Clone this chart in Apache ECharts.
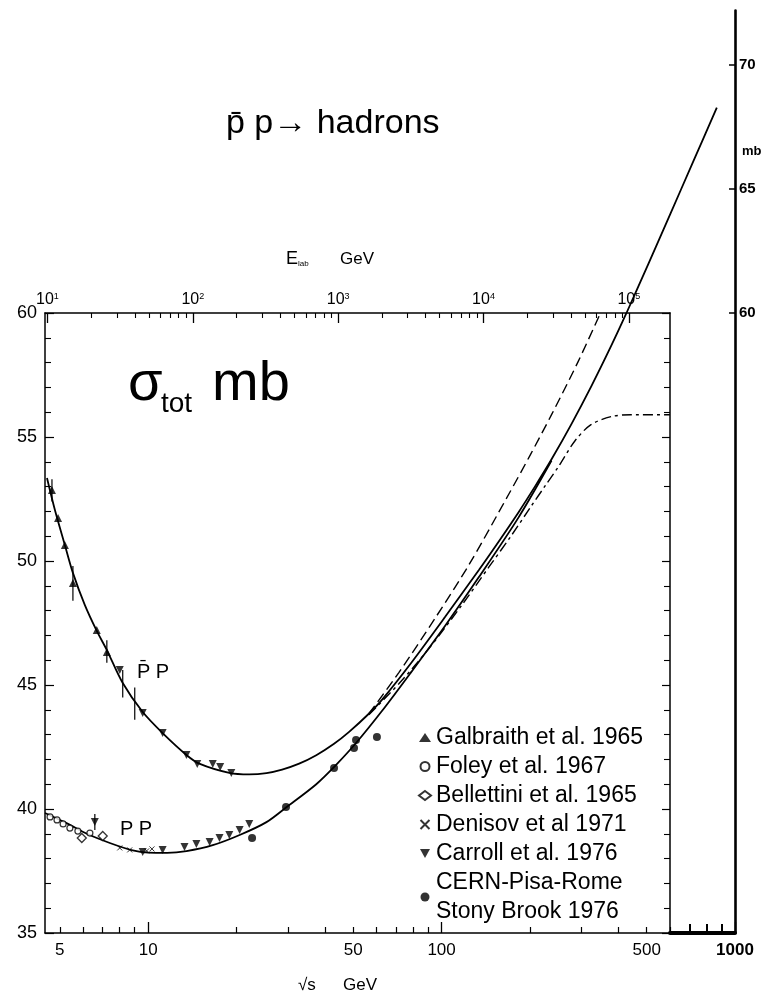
<!DOCTYPE html>
<html><head><meta charset="utf-8">
<script src="https://cdn.jsdelivr.net/npm/echarts@6/dist/echarts.min.js"></script>
<style>html,body{margin:0;padding:0;background:#fff}#c{width:763px;height:994px}</style>
</head><body><div id="c"></div>
<script>
// ---------- data (sqrt(s) in GeV, sigma_tot in mb) ----------
const pbarpS   = [4.52, 4.81, 5.20, 5.54, 6.08, 6.68, 7.23, 8.19, 9.58, 11.2, 13.5, 15.0, 18.9, 22.1, 25.3, 28.6, 32.7, 37.4, 43.0, 48.4, 56.5, 62.6, 79.1, 103, 134, 156, 183, 209, 237, 277, 324, 378, 426, 505, 600, 719, 867];
const pbarpSig = [53.35, 52.06, 50.65, 49.52, 48.23, 47.18, 46.41, 45.08, 43.91, 43.06, 42.18, 41.82, 41.46, 41.40, 41.45, 41.59, 41.83, 42.17, 42.63, 43.11, 43.84, 44.40, 45.92, 47.76, 49.64, 50.76, 51.97, 53.04, 54.10, 55.52, 57.05, 58.66, 59.98, 61.94, 63.96, 66.08, 68.28];
const ppS      = [4.45, 5.29, 6.18, 7.40, 8.86, 10.0, 11.6, 13.5, 16.6, 20.5, 25.3, 29.5, 37.4, 43.7, 51.1, 62.6, 79.1, 103, 134, 183, 237];
const ppSig    = [39.84, 39.42, 39.00, 38.63, 38.33, 38.24, 38.23, 38.30, 38.54, 38.95, 39.47, 40.06, 41.00, 41.78, 42.66, 43.95, 45.55, 47.40, 49.35, 51.76, 54.05];
const upDashS   = [56.5, 71.5, 95.5, 124, 169, 200, 237, 292, 347];
const upDashSig = [43.84, 45.50, 47.73, 49.85, 52.67, 54.25, 55.90, 58.04, 59.97];
const satS   = [56.5, 71.5, 90.4, 117, 145, 173, 202, 226, 250, 285, 323, 378, 442, 600];
const satSig = [43.80, 45.05, 46.46, 48.21, 49.76, 51.03, 52.21, 53.05, 53.80, 54.85, 55.50, 55.82, 55.90, 55.90];

const galS = [4.70, 4.93, 5.20, 5.54, 6.68, 7.23];
const galSig = [52.86, 51.73, 50.65, 49.11, 47.22, 46.33];
const foleyS = [4.63, 4.89, 5.13, 5.41, 5.76, 6.33];
const foleySig = [39.68, 39.56, 39.40, 39.23, 39.11, 39.03];
const bellS = [5.94, 7.00];
const bellSig = [38.83, 38.91];
const denS = [8.0, 8.65, 9.88, 10.3];
const denSig = [38.43, 38.35, 38.31, 38.39];
const carS = [8.00, 9.58, 11.2, 13.5, 14.7, 16.6, 17.6, 19.2, 6.58, 9.58, 11.2, 13.3, 14.6, 16.2, 17.5, 18.9, 20.5, 22.1];
const carSig = [45.60, 43.87, 43.06, 42.18, 41.81, 41.81, 41.69, 41.45, 39.48, 38.27, 38.35, 38.47, 38.59, 38.67, 38.83, 38.95, 39.15, 39.40];
const cernS = [22.6, 29.5, 43.0, 50.3, 51.1, 60.2];
const cernSig = [38.83, 40.08, 41.65, 42.46, 42.78, 42.90];
const errS  = [4.70, 5.54, 6.58, 7.23, 8.19, 9.0];
const errLo = [52.4, 48.4, 39.15, 45.9, 44.5, 43.6];
const errHi = [53.3, 49.8, 39.8, 46.8, 45.6, 44.9];

// ---------- tick labels ----------
const bottomLabels = [5, 10, 50, 100, 500, 1000];
const bottomMinorTicks = [5, 6, 7, 8, 9, 20, 30, 40, 50, 60, 70, 80, 90, 200, 300, 400, 500, 600];
const bottomMajorTicks = [10, 100, 1000];
const boldSegTicks = [700, 800, 900];
const topExp = [1, 2, 3, 4, 5];
const topMinorTicks = [20,30,40,50,60,70,80,90,200,300,400,500,600,700,800,900,2000,3000,4000,5000,6000,7000,8000,9000,20000,30000,40000,50000,60000,70000,80000,90000];
const rightLabels = [60, 65, 70];
const legendNames = ['Galbraith et al. 1965', 'Foley et al. 1967', 'Bellettini et al. 1965', 'Denisov et al 1971', 'Carroll et al. 1976', 'CERN-Pisa-Rome\nStony Brook 1976'];

// ---------- build ----------
const FONT = '"Liberation Sans", Arial, sans-serif';
const L = Math.log10;
const zip = (a, b) => a.map((v, i) => [v, b[i]]);
const BLACK = '#000';
const line = (w) => ({ show: true, onZero: false, lineStyle: { color: BLACK, width: w } });

const chart = echarts.init(document.getElementById('c'), null, { renderer: 'canvas' });

function txt(x, y, text, size, o) {
  o = o || {};
  const al = o.align || 'left';
  return { type: 'text', x: x, y: y, silent: true, z: 50,
    style: { text: text, fill: BLACK, font: (o.bold ? 'bold ' : '') + size + 'px ' + FONT,
      align: al, textAlign: al, verticalAlign: 'middle', textVerticalAlign: 'middle' } };
}

const gridBase = { containLabel: false, outerBoundsMode: 'none', show: false };

const option = {
  animation: false,
  backgroundColor: '#fff',
  textStyle: { fontFamily: FONT, color: BLACK },
  grid: [
    Object.assign({ left: 45, top: 313, width: 625, height: 620 }, gridBase),
    Object.assign({ left: 45, top: 10.44, width: 690, height: 922.56 }, gridBase),
    Object.assign({ left: 670, top: 923, width: 65, height: 10 }, gridBase)
  ],
  xAxis: [
    { type: 'log', logBase: 10, gridIndex: 1, min: 4.45, max: 1000, show: false },
    { type: 'value', gridIndex: 1, position: 'bottom', min: L(4.45), max: 3,
      axisLine: line(1.5), splitLine: { show: false },
      axisTick: { show: true, inside: true, length: 6, customValues: bottomMinorTicks.map(L), lineStyle: { color: BLACK, width: 1.2 } },
      axisLabel: { show: true, customValues: bottomLabels.map(L), margin: 9, fontSize: 17, color: BLACK, fontFamily: FONT,
        formatter: v => { const n = Math.round(Math.pow(10, v)); return n === 1000 ? '{b|1000}' : String(n); },
        rich: { b: { fontWeight: 'bold', fontSize: 17, fontFamily: FONT, color: BLACK } } } },
    { type: 'value', gridIndex: 1, position: 'bottom', min: L(4.45), max: 3,
      axisLine: { show: false }, splitLine: { show: false }, axisLabel: { show: false },
      axisTick: { show: true, inside: true, length: 11, customValues: bottomMajorTicks.map(L), lineStyle: { color: BLACK, width: 1.3 } } },
    { type: 'value', gridIndex: 0, position: 'top', min: L(9.62), max: L(191900),
      axisLine: line(1.5), splitLine: { show: false },
      axisTick: { show: true, inside: true, length: 10, customValues: topExp, lineStyle: { color: BLACK, width: 1.3 } },
      axisLabel: { show: true, customValues: topExp, margin: 5, fontSize: 16, color: BLACK, fontFamily: FONT,
        formatter: v => '10{s|' + Math.round(v) + '}',
        rich: { s: { fontSize: 9, fontFamily: FONT, color: BLACK, verticalAlign: 'top' } } } },
    { type: 'value', gridIndex: 0, position: 'top', min: L(9.62), max: L(191900),
      axisLine: { show: false }, splitLine: { show: false }, axisLabel: { show: false },
      axisTick: { show: true, inside: true, length: 5, customValues: topMinorTicks.map(L), lineStyle: { color: BLACK, width: 1.1 } } },
    { type: 'value', gridIndex: 2, position: 'bottom', min: L(600), max: 3,
      axisLine: line(4), splitLine: { show: false }, axisLabel: { show: false },
      axisTick: { show: true, inside: true, length: 9, customValues: boldSegTicks.map(L), lineStyle: { color: BLACK, width: 2 } } }
  ],
  yAxis: [
    { type: 'value', gridIndex: 1, min: 35, max: 72.2, show: false },
    { type: 'value', gridIndex: 0, position: 'left', min: 35, max: 60, interval: 5,
      axisLine: line(1.5), splitLine: { show: false }, minorSplitLine: { show: false },
      axisTick: { show: true, inside: true, length: 9, lineStyle: { color: BLACK, width: 1.2 } },
      minorTick: { show: true, splitNumber: 5, length: 6, lineStyle: { color: BLACK, width: 1.1 } },
      axisLabel: { show: true, margin: 8, fontSize: 18, color: BLACK, fontFamily: FONT } },
    { type: 'value', gridIndex: 0, position: 'right', min: 35, max: 60, interval: 5,
      axisLine: line(1.5), splitLine: { show: false }, minorSplitLine: { show: false },
      axisTick: { show: true, inside: true, length: 8, lineStyle: { color: BLACK, width: 1.2 } },
      minorTick: { show: true, splitNumber: 5, length: 6, lineStyle: { color: BLACK, width: 1.1 } },
      axisLabel: { show: false } },
    { type: 'value', gridIndex: 1, position: 'right', min: 35, max: 72.2,
      axisLine: line(2.6), splitLine: { show: false },
      axisTick: { show: true, inside: true, length: 6, customValues: rightLabels, lineStyle: { color: BLACK, width: 1.5 } },
      axisLabel: { show: true, customValues: rightLabels, margin: 4, fontSize: 15, fontWeight: 'bold', color: BLACK, fontFamily: FONT } },
    { type: 'value', gridIndex: 2, min: 0, max: 1, show: false }
  ],
  legend: {
    data: legendNames, orient: 'vertical', left: 418, top: 723, itemWidth: 12, itemHeight: 9, itemGap: 0,
    selectedMode: false, padding: 0,
    textStyle: { fontFamily: FONT, fontSize: 23, lineHeight: 29, color: BLACK }
  },
  series: [
    { type: 'line', name: 'pbarp fit', xAxisIndex: 0, yAxisIndex: 0, data: zip(pbarpS, pbarpSig), smooth: 0.3,
      symbol: 'none', silent: true, z: 3, lineStyle: { color: BLACK, width: 1.8 } },
    { type: 'line', name: 'pp fit', xAxisIndex: 0, yAxisIndex: 0, data: zip(ppS, ppSig), smooth: 0.3,
      symbol: 'none', silent: true, z: 3, lineStyle: { color: BLACK, width: 1.8 } },
    { type: 'line', name: 'upper', xAxisIndex: 0, yAxisIndex: 0, data: zip(upDashS, upDashSig), smooth: 0.3,
      symbol: 'none', silent: true, z: 3, lineStyle: { color: BLACK, width: 1.4, type: [10, 5] } },
    { type: 'line', name: 'saturating', xAxisIndex: 0, yAxisIndex: 0, data: zip(satS, satSig), smooth: 0.3,
      symbol: 'none', silent: true, z: 3, lineStyle: { color: BLACK, width: 1.4, type: [10, 4, 3, 4] } },
    { type: 'custom', name: 'errors', xAxisIndex: 0, yAxisIndex: 0, silent: true, z: 4,
      data: errS.map((s, i) => [s, errLo[i], errHi[i]]),
      encode: { x: 0, y: [1, 2] },
      renderItem: (params, api) => {
        const a = api.coord([api.value(0), api.value(1)]);
        const b = api.coord([api.value(0), api.value(2)]);
        return { type: 'line', shape: { x1: a[0], y1: a[1], x2: b[0], y2: b[1] }, style: { stroke: BLACK, lineWidth: 1.2 } };
      } },
    { type: 'scatter', name: legendNames[0], xAxisIndex: 0, yAxisIndex: 0, data: zip(galS, galSig),
      symbol: 'triangle', symbolSize: 8, z: 5, itemStyle: { color: BLACK } },
    { type: 'scatter', name: legendNames[1], xAxisIndex: 0, yAxisIndex: 0, data: zip(foleyS, foleySig),
      symbol: 'circle', symbolSize: 6, z: 5, itemStyle: { color: '#fff', borderColor: BLACK, borderWidth: 1.2 } },
    { type: 'scatter', name: legendNames[2], xAxisIndex: 0, yAxisIndex: 0, data: zip(bellS, bellSig),
      symbol: 'diamond', symbolSize: 9, z: 5, itemStyle: { color: '#fff', borderColor: BLACK, borderWidth: 1.3 } },
    { type: 'scatter', name: legendNames[3], xAxisIndex: 0, yAxisIndex: 0, data: zip(denS, denSig),
      symbol: 'path://M0,0L10,10M10,0L0,10', symbolSize: 5, z: 5, itemStyle: { color: 'none', borderColor: BLACK, borderWidth: 1 } },
    { type: 'scatter', name: legendNames[4], xAxisIndex: 0, yAxisIndex: 0, data: zip(carS, carSig),
      symbol: 'path://M0,0L10,0L5,9Z', symbolSize: 8, z: 5, itemStyle: { color: BLACK } },
    { type: 'scatter', name: legendNames[5], xAxisIndex: 0, yAxisIndex: 0, data: zip(cernS, cernSig),
      symbol: 'circle', symbolSize: 8, z: 5, itemStyle: { color: BLACK } }
  ],
  graphic: [
    txt(226, 124, 'p\u0304 p\u2192 hadrons', 34),
    txt(128, 385, '\u03C3', 56),
    txt(161, 404, 'tot', 28),
    txt(212, 385, 'mb', 56),
    txt(286, 259, 'E', 18),
    txt(298, 264, 'lab', 8),
    txt(340, 259, 'GeV', 17),
    txt(153, 672, 'P\u0304 P', 20, { align: 'center' }),
    txt(136, 829, 'P P', 20, { align: 'center' }),
    txt(742, 151, 'mb', 13, { bold: true }),
    txt(298, 985, '\u221As', 17),
    txt(343, 985, 'GeV', 17)
  ]
};
chart.setOption(option);
</script></body></html>
